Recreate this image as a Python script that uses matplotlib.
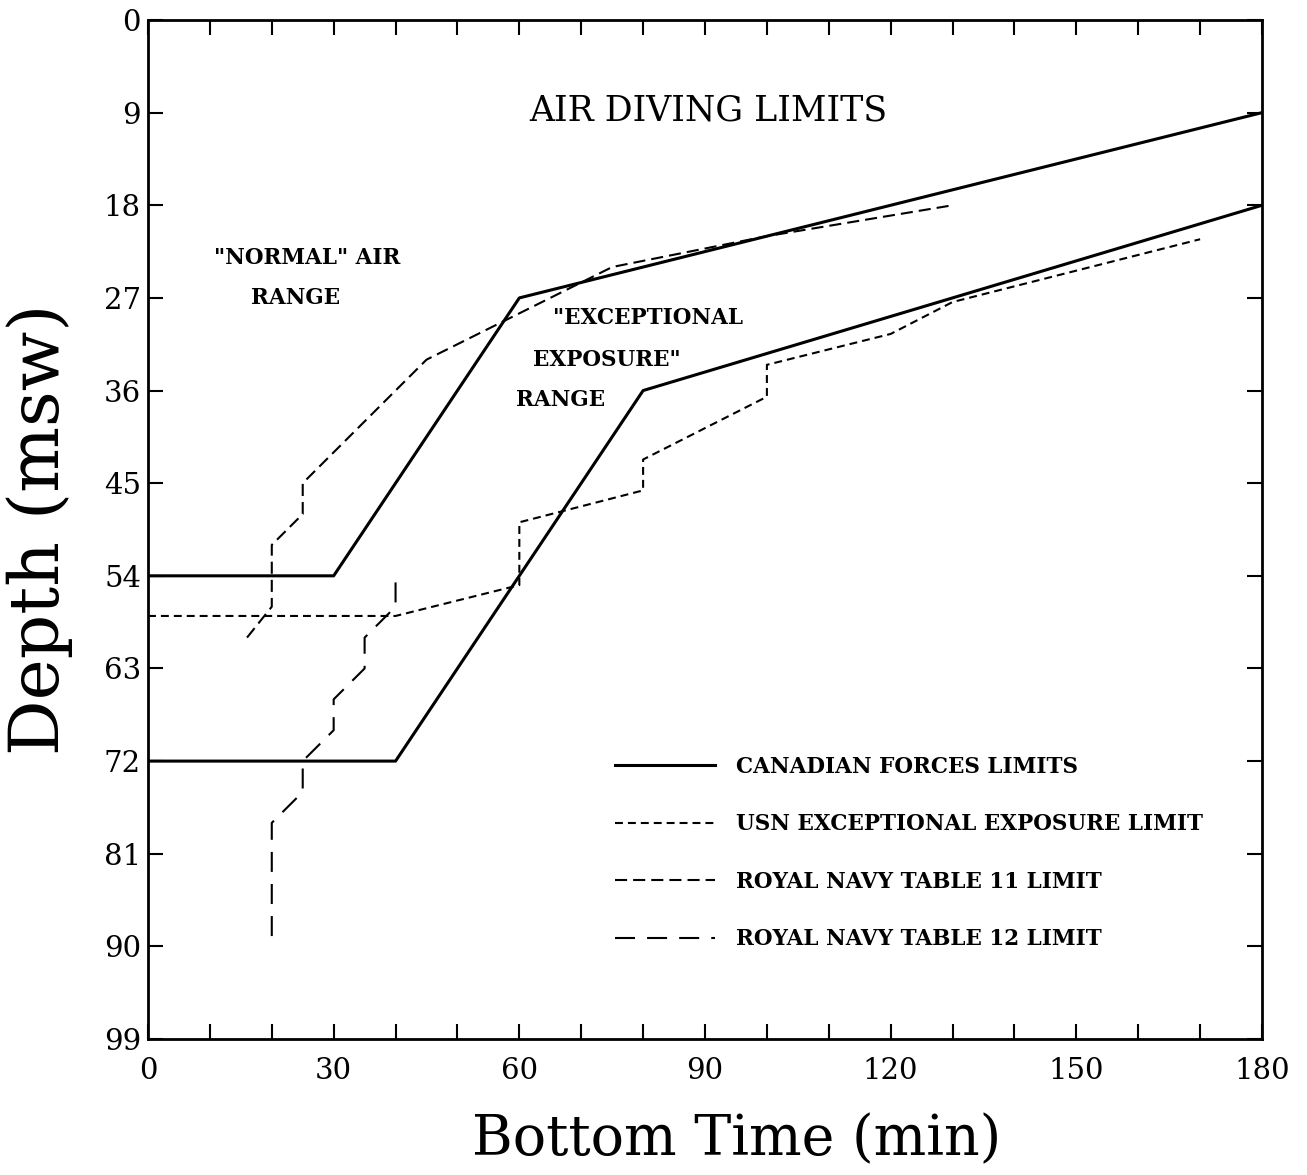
import matplotlib
matplotlib.use('Agg')
import matplotlib.pyplot as plt
from matplotlib.ticker import MultipleLocator, FuncFormatter

plt.rcParams['font.family'] = ['DejaVu Serif']

# Canadian Forces limits (two solid lines)
cf_upper_time = [0, 30, 60, 180]
cf_upper_depth = [54, 54, 27, 9]
cf_lower_time = [0, 40, 80, 180]
cf_lower_depth = [72, 72, 36, 18]

# USN exceptional exposure limit
usn_time = [0, 40, 60, 60, 80, 80, 100, 100, 120, 130, 170]
usn_depth = [57.9, 57.9, 54.9, 48.8, 45.7, 42.7, 36.6, 33.5, 30.5, 27.4, 21.3]

# Royal Navy tables
rn11_time = [16, 20, 20, 25, 25, 45, 75, 100, 130]
rn11_depth = [60, 57, 51, 48, 45, 33, 24, 21, 18]
rn12_time = [20, 20, 25, 25, 30, 30, 35, 35, 40, 40]
rn12_depth = [89, 78, 75, 72, 69, 66, 63, 60, 57, 54]

labels = ['CANADIAN FORCES LIMITS', 'USN EXCEPTIONAL EXPOSURE LIMIT',
          'ROYAL NAVY TABLE 11 LIMIT', 'ROYAL NAVY TABLE 12 LIMIT']

fig = plt.figure(figsize=(13.07, 11.75), dpi=100)
ax = fig.add_axes([148 / 1307, 1 - 1039 / 1175, 1114 / 1307, 1019 / 1175])

ax.plot(cf_upper_time, cf_upper_depth, color='black', lw=2.2, label=labels[0])
ax.plot(cf_lower_time, cf_lower_depth, color='black', lw=2.2)
ax.plot(usn_time, usn_depth, color='black', lw=1.5, ls=(0, (3.8, 2.4)), label=labels[1])
ax.plot(rn11_time, rn11_depth, color='black', lw=1.5, ls=(0, (5.8, 2.9)), label=labels[2])
ax.plot(rn12_time, rn12_depth, color='black', lw=1.5, ls=(0, (9.6, 5.8)), label=labels[3])

ax.set_xlim(0, 180)
ax.set_ylim(99, 0)
ax.xaxis.set_major_locator(MultipleLocator(10))
ax.xaxis.set_major_formatter(FuncFormatter(lambda v, p: f'{v:.0f}' if round(v) % 30 == 0 else ''))
ax.set_yticks(range(0, 100, 9))
ax.tick_params(direction='in', length=11, width=1.5, top=True, right=True, labelsize=21)
ax.tick_params(axis='x', pad=13)
ax.tick_params(axis='y', pad=5)
for s in ax.spines.values():
    s.set_linewidth(2)

# texts inside the plot
ax.text(90.5, 8.75, 'AIR DIVING LIMITS', ha='center', va='center', fontsize=25)
ax.text(25.7, 23.1, '"NORMAL" AIR', ha='center', va='center', fontsize=15.5, weight='bold')
ax.text(23.9, 27.0, 'RANGE', ha='center', va='center', fontsize=15.5, weight='bold')
ax.text(65.4, 29.0, '"EXCEPTIONAL', ha='left', va='center', fontsize=15.5, weight='bold')
ax.text(62.2, 33.0, 'EXPOSURE"', ha='left', va='center', fontsize=15.5, weight='bold')
ax.text(59.5, 36.9, 'RANGE', ha='left', va='center', fontsize=15.5, weight='bold')

ax.legend(loc='upper left', bbox_to_anchor=(0.419, 0.278), frameon=False,
          borderaxespad=0, borderpad=0, handlelength=4.65, handletextpad=1.0,
          labelspacing=1.65, prop={'size': 15.5, 'weight': 'bold'})

ax.set_xlabel('Bottom Time (min)', fontsize=40, va='center')
ax.xaxis.set_label_coords((737 - 148) / 1114, -(1140 - 1039) / 1019)
ax.set_ylabel('Depth (msw)', fontsize=50, va='center')
ax.yaxis.set_label_coords((40 - 148) / 1114, 0.5)

fig.savefig('out.png', dpi=100)
